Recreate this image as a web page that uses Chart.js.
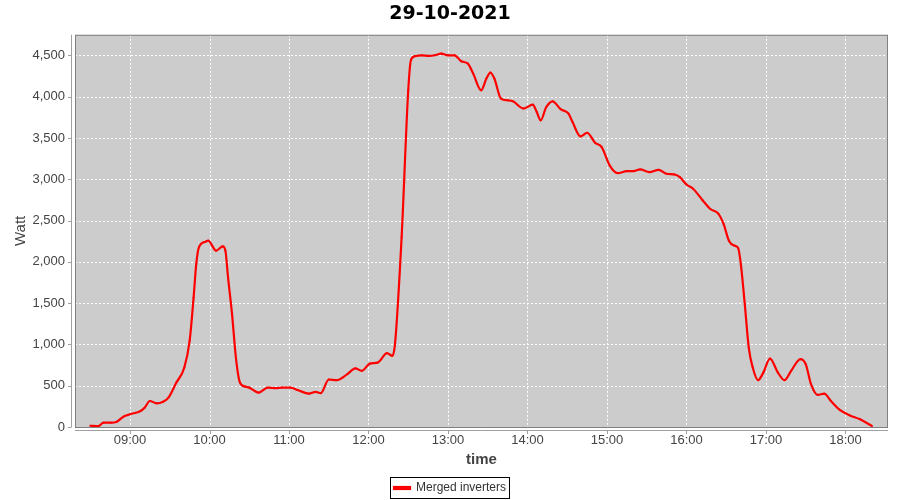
<!DOCTYPE html>
<html>
<head>
<meta charset="utf-8">
<script src="https://cdn.jsdelivr.net/npm/chart.js@4.4.0/dist/chart.umd.min.js"></script>
<style>
  html, body { margin:0; padding:0; background:#fff; }
  #wrap { width:900px; height:500px; }
</style>
</head>
<body>
<div id="wrap"><canvas id="powerChart" width="900" height="500"></canvas></div>
<script>
// data (time of day, watt)
const chartTitle = '29-10-2021';
const seriesName = 'Merged inverters';
const times = ['08:30','08:36','08:40','08:46','08:50','08:55','09:00','09:08','09:11','09:15','09:20','09:25','09:29','09:35','09:41','09:45','09:48','09:50','09:52','09:57','09:59','10:05','10:10','10:12','10:14','10:17','10:20','10:23','10:27','10:30','10:37','10:44','10:50','10:55','11:01','11:07','11:15','11:20','11:24','11:30','11:36','11:44','11:50','11:55','12:01','12:07','12:14','12:18','12:20','12:25','12:30','12:32','12:35','12:40','12:46','12:50','12:55','13:00','13:05','13:10','13:15','13:19','13:25','13:29','13:32','13:35','13:40','13:45','13:49','13:57','14:04','14:07','14:10','14:14','14:19','14:25','14:31','14:34','14:40','14:45','14:51','14:56','15:02','15:08','15:15','15:20','15:25','15:32','15:39','15:45','15:51','15:55','16:00','16:05','16:12','16:18','16:24','16:28','16:32','16:36','16:39','16:41','16:44','16:47','16:50','16:54','16:58','17:03','17:09','17:14','17:19','17:26','17:30','17:34','17:39','17:44','17:49','17:56','18:03','18:11','18:20'];
const watts = [15,10,52,52,64,125,154,194,234,315,287,307,356,538,720,1044,1569,1975,2176,2245,2257,2136,2188,2136,1812,1368,829,538,489,477,416,477,472,477,477,445,404,425,409,575,567,640,710,680,768,780,894,862,1004,2300,4078,4442,4490,4502,4494,4502,4523,4502,4502,4430,4401,4280,4078,4220,4293,4220,3977,3956,3944,3856,3904,3814,3714,3870,3944,3850,3795,3693,3519,3564,3443,3390,3168,3074,3098,3098,3119,3086,3115,3067,3058,3026,2937,2885,2750,2640,2585,2460,2257,2197,2168,1975,1489,962,720,567,659,829,659,567,680,822,761,518,388,404,316,203,142,93,12];
const hourTicks = [9,10,11,12,13,14,15,16,17,18];
const wattTicks = [0,500,1000,1500,2000,2500,3000,3500,4000,4500];

function toHours(t){ const p = t.split(':'); return +p[0] + (+p[1])/60; }
function hhmm(h){ return String(h).padStart(2,'0') + ':00'; }

const points = times.map((t,i)=> ({ x: toHours(t), y: watts[i] }));

// plot background, dashed grid, border, detached axis lines and legend frame
const jfreeLook = {
  id:'jfreeLook',
  beforeDraw(chart){
    const c = chart.ctx, a = chart.chartArea;
    c.save();
    c.fillStyle = '#fff'; c.fillRect(0,0,chart.width,chart.height);
    c.fillStyle = '#cccccc'; c.fillRect(a.left,a.top,a.right-a.left,a.bottom-a.top);
    c.restore();
  },
  beforeDatasetsDraw(chart){
    const c = chart.ctx, a = chart.chartArea;
    const xs = chart.scales.x, ys = chart.scales.y;
    c.save();
    c.strokeStyle = '#ffffff'; c.lineWidth = 1; c.setLineDash([2,2]);
    c.beginPath();
    hourTicks.forEach(h=>{ const x = Math.round(xs.getPixelForValue(h))+0.5; c.moveTo(x, a.top); c.lineTo(x, a.bottom); });
    wattTicks.slice(1).forEach(v=>{ const y = Math.round(ys.getPixelForValue(v))+0.5; c.moveTo(a.left, y); c.lineTo(a.right, y); });
    c.stroke();
    c.restore();
  },
  afterDraw(chart){
    const c = chart.ctx, a = chart.chartArea;
    const xs = chart.scales.x, ys = chart.scales.y;
    c.save();
    c.strokeStyle = '#808080'; c.lineWidth = 1;
    c.strokeRect(a.left+0.5, a.top+0.5, a.right-a.left-1, a.bottom-a.top);
    c.strokeStyle = '#a0a0a0';
    c.beginPath();
    c.moveTo(a.left-3.5, a.top); c.lineTo(a.left-3.5, a.bottom);
    wattTicks.forEach(v=>{ const y = Math.round(ys.getPixelForValue(v))+0.5; c.moveTo(a.left-7, y); c.lineTo(a.left-3.5, y); });
    c.moveTo(a.left, a.bottom+3.5); c.lineTo(a.right, a.bottom+3.5);
    hourTicks.forEach(h=>{ const x = Math.round(xs.getPixelForValue(h))+0.5; c.moveTo(x, a.bottom+3.5); c.lineTo(x, a.bottom+7); });
    c.stroke();
    const hb = chart.legend.legendHitBoxes[0];
    if(hb){
      c.strokeStyle = '#000';
      c.strokeRect(Math.round(hb.left)-3.5, Math.round(hb.top)-4.5, Math.round(hb.width)+7, Math.round(hb.height)+9);
    }
    c.restore();
  }
};

new Chart(document.getElementById('powerChart'), {
  type:'line',
  data:{ datasets:[{
    label: seriesName, data: points,
    borderColor:'#ff0000', backgroundColor:'#ff0000', borderWidth:2.2,
    pointRadius:1, pointHoverRadius:1, pointBackgroundColor:'#ff0000', pointBorderWidth:0,
    cubicInterpolationMode:'monotone', fill:false
  }]},
  options:{
    responsive:false, animation:false,
    layout:{ padding:{ left:12, right:12, top:0, bottom:-4 } },
    scales:{
      x:{
        type:'linear', min:8.308, max:18.535,
        afterBuildTicks: s => { s.ticks = hourTicks.map(v=>({value:v})); },
        afterFit: s => { s.height = 49; },
        ticks:{ callback: v => hhmm(v), color:'#444', padding:6, maxRotation:0, font:{ family:'Liberation Sans', size:13 } },
        grid:{ display:false, drawTicks:false },
        border:{ display:false },
        title:{ display:true, text:'time', color:'#444', padding:{top:0,bottom:7}, font:{ family:'Liberation Sans', size:15, weight:'bold' } }
      },
      y:{
        type:'linear', min:0, max:4750,
        afterBuildTicks: s => { s.ticks = wattTicks.map(v=>({value:v})); },
        afterFit: s => { s.width = 63; },
        ticks:{ callback: v => v.toLocaleString('en-US'), color:'#444', padding:10, font:{ family:'Liberation Sans', size:13 } },
        grid:{ display:false, drawTicks:false },
        border:{ display:false },
        title:{ display:true, text:'Watt', color:'#444', padding:{top:0,bottom:0}, font:{ family:'Liberation Sans', size:15 } }
      }
    },
    plugins:{
      title:{ display:true, text:chartTitle, color:'#000', padding:{top:3,bottom:9}, font:{ family:'DejaVu Sans', size:19, weight:'bold' } },
      legend:{ position:'bottom', labels:{ boxWidth:16, boxHeight:2, padding:6, color:'#333', font:{ family:'Liberation Sans', size:12 } } },
      tooltip:{ enabled:false }
    }
  },
  plugins:[jfreeLook]
});
</script>
</body>
</html>
